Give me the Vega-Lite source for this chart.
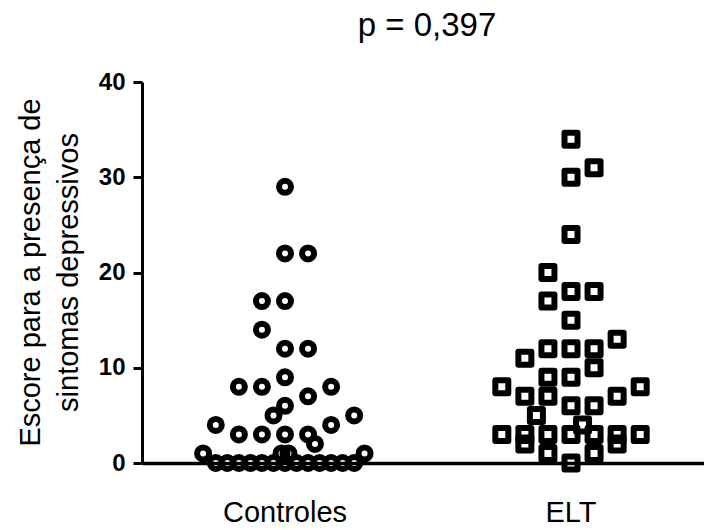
{
  "$schema": "https://vega.github.io/schema/vega-lite/v6.json",
  "width": 562,
  "height": 381,
  "autosize": "none",
  "padding": {"left": 142, "top": 82, "right": 0, "bottom": 67},
  "background": "white",
  "title": {
    "text": "p = 0,397",
    "font": "Liberation Sans",
    "fontSize": 33,
    "fontWeight": "normal",
    "color": "black",
    "frame": "group",
    "anchor": "middle",
    "baseline": "alphabetic",
    "offset": 1,
    "dx": 4
  },
  "data": {
    "values": [
      {"grupo": "Controles", "escore": 29, "deslocamento": 0},
      {"grupo": "Controles", "escore": 22, "deslocamento": 0},
      {"grupo": "Controles", "escore": 22, "deslocamento": 1},
      {"grupo": "Controles", "escore": 17, "deslocamento": -1},
      {"grupo": "Controles", "escore": 17, "deslocamento": 0},
      {"grupo": "Controles", "escore": 14, "deslocamento": -1},
      {"grupo": "Controles", "escore": 12, "deslocamento": 0},
      {"grupo": "Controles", "escore": 12, "deslocamento": 1},
      {"grupo": "Controles", "escore": 9, "deslocamento": 0},
      {"grupo": "Controles", "escore": 8, "deslocamento": -2},
      {"grupo": "Controles", "escore": 8, "deslocamento": -1},
      {"grupo": "Controles", "escore": 8, "deslocamento": 2},
      {"grupo": "Controles", "escore": 7, "deslocamento": 1},
      {"grupo": "Controles", "escore": 6, "deslocamento": 0},
      {"grupo": "Controles", "escore": 5, "deslocamento": -0.5},
      {"grupo": "Controles", "escore": 5, "deslocamento": 3},
      {"grupo": "Controles", "escore": 4, "deslocamento": -3},
      {"grupo": "Controles", "escore": 4, "deslocamento": 2},
      {"grupo": "Controles", "escore": 3, "deslocamento": -2},
      {"grupo": "Controles", "escore": 3, "deslocamento": -1},
      {"grupo": "Controles", "escore": 3, "deslocamento": 0},
      {"grupo": "Controles", "escore": 3, "deslocamento": 1},
      {"grupo": "Controles", "escore": 2, "deslocamento": 1.3},
      {"grupo": "Controles", "escore": 1, "deslocamento": -3.55},
      {"grupo": "Controles", "escore": 1, "deslocamento": -0.15},
      {"grupo": "Controles", "escore": 1, "deslocamento": 0.15},
      {"grupo": "Controles", "escore": 1, "deslocamento": 3.45},
      {"grupo": "Controles", "escore": 0, "deslocamento": -3},
      {"grupo": "Controles", "escore": 0, "deslocamento": -2.5},
      {"grupo": "Controles", "escore": 0, "deslocamento": -2},
      {"grupo": "Controles", "escore": 0, "deslocamento": -1.5},
      {"grupo": "Controles", "escore": 0, "deslocamento": -1},
      {"grupo": "Controles", "escore": 0, "deslocamento": -0.5},
      {"grupo": "Controles", "escore": 0, "deslocamento": 0},
      {"grupo": "Controles", "escore": 0, "deslocamento": 0.5},
      {"grupo": "Controles", "escore": 0, "deslocamento": 1},
      {"grupo": "Controles", "escore": 0, "deslocamento": 1.5},
      {"grupo": "Controles", "escore": 0, "deslocamento": 2},
      {"grupo": "Controles", "escore": 0, "deslocamento": 2.5},
      {"grupo": "Controles", "escore": 0, "deslocamento": 3},
      {"grupo": "ELT", "escore": 34, "deslocamento": 0},
      {"grupo": "ELT", "escore": 31, "deslocamento": 1},
      {"grupo": "ELT", "escore": 30, "deslocamento": 0},
      {"grupo": "ELT", "escore": 24, "deslocamento": 0},
      {"grupo": "ELT", "escore": 20, "deslocamento": -1},
      {"grupo": "ELT", "escore": 18, "deslocamento": 0},
      {"grupo": "ELT", "escore": 18, "deslocamento": 1},
      {"grupo": "ELT", "escore": 17, "deslocamento": -1},
      {"grupo": "ELT", "escore": 15, "deslocamento": 0},
      {"grupo": "ELT", "escore": 13, "deslocamento": 2},
      {"grupo": "ELT", "escore": 12, "deslocamento": -1},
      {"grupo": "ELT", "escore": 12, "deslocamento": 0},
      {"grupo": "ELT", "escore": 12, "deslocamento": 1},
      {"grupo": "ELT", "escore": 11, "deslocamento": -2},
      {"grupo": "ELT", "escore": 10, "deslocamento": 1},
      {"grupo": "ELT", "escore": 9, "deslocamento": -1},
      {"grupo": "ELT", "escore": 9, "deslocamento": 0},
      {"grupo": "ELT", "escore": 8, "deslocamento": -3},
      {"grupo": "ELT", "escore": 8, "deslocamento": 3},
      {"grupo": "ELT", "escore": 7, "deslocamento": -2},
      {"grupo": "ELT", "escore": 7, "deslocamento": -1},
      {"grupo": "ELT", "escore": 7, "deslocamento": 2},
      {"grupo": "ELT", "escore": 6, "deslocamento": 0},
      {"grupo": "ELT", "escore": 6, "deslocamento": 1},
      {"grupo": "ELT", "escore": 5, "deslocamento": -1.5},
      {"grupo": "ELT", "escore": 4, "deslocamento": 0.5},
      {"grupo": "ELT", "escore": 3, "deslocamento": -3},
      {"grupo": "ELT", "escore": 3, "deslocamento": -2},
      {"grupo": "ELT", "escore": 3, "deslocamento": -1},
      {"grupo": "ELT", "escore": 3, "deslocamento": 0},
      {"grupo": "ELT", "escore": 3, "deslocamento": 1},
      {"grupo": "ELT", "escore": 3, "deslocamento": 2},
      {"grupo": "ELT", "escore": 3, "deslocamento": 3},
      {"grupo": "ELT", "escore": 2, "deslocamento": -2},
      {"grupo": "ELT", "escore": 2, "deslocamento": 2},
      {"grupo": "ELT", "escore": 1, "deslocamento": -1},
      {"grupo": "ELT", "escore": 1, "deslocamento": 1},
      {"grupo": "ELT", "escore": 0, "deslocamento": 0}
    ]
  },
  "mark": {
    "type": "point",
    "filled": false,
    "stroke": "black",
    "strokeWidth": 6,
    "strokeJoin": "round",
    "opacity": 1,
    "clip": false
  },
  "encoding": {
    "x": {
      "field": "grupo",
      "type": "nominal",
      "sort": ["Controles", "ELT"],
      "scale": {"range": [0, 572], "paddingInner": 0, "paddingOuter": 0},
      "axis": {
        "title": null,
        "labelAngle": 0,
        "labelFont": "Liberation Sans",
        "labelFontSize": 29,
        "labelColor": "black",
        "labelBaseline": "top",
        "ticks": false,
        "tickSize": 0,
        "labelPadding": 35,
        "domainColor": "black",
        "domainWidth": 3.5,
        "grid": false
      }
    },
    "xOffset": {
      "field": "deslocamento",
      "type": "quantitative",
      "scale": {"domain": [-6.2, 6.2], "nice": false, "zero": false}
    },
    "y": {
      "field": "escore",
      "type": "quantitative",
      "scale": {"domain": [0, 40], "nice": false},
      "axis": {
        "title": ["Escore para a presença de", "sintomas depressivos"],
        "titleFont": "Liberation Sans",
        "titleFontSize": 29,
        "titleFontWeight": "normal",
        "titleColor": "black",
        "titleLineHeight": 38,
        "titleAngle": -90,
        "titleAlign": "center",
        "titleBaseline": "middle",
        "titleX": -112,
        "titleY": 190,
        "values": [0, 10, 20, 30, 40],
        "labelFont": "Liberation Sans",
        "labelFontSize": 24,
        "labelFontWeight": "bold",
        "labelColor": "black",
        "labelPadding": 8,
        "tickSize": 9,
        "tickWidth": 3,
        "tickColor": "black",
        "domainColor": "black",
        "domainWidth": 3,
        "grid": false
      }
    },
    "shape": {
      "field": "grupo",
      "type": "nominal",
      "scale": {"domain": ["Controles", "ELT"], "range": ["circle", "square"]},
      "legend": null
    },
    "size": {
      "field": "grupo",
      "type": "nominal",
      "scale": {"domain": ["Controles", "ELT"], "range": [144, 169]},
      "legend": null
    }
  },
  "config": {
    "view": {"stroke": null}
  }
}
